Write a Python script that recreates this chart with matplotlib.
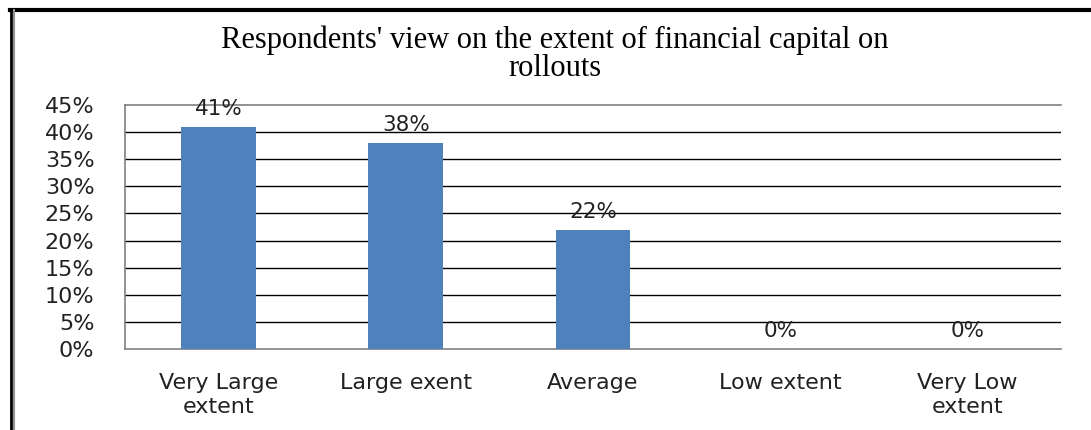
import matplotlib
matplotlib.use("Agg")
import matplotlib.pyplot as plt
from matplotlib.lines import Line2D
import numpy as np

categories = ["Very Large\nextent", "Large exent", "Average", "Low extent", "Very Low\nextent"]
shares = [41, 38, 22, 0, 0]
y_ticks = [0, 5, 10, 15, 20, 25, 30, 35, 40, 45]

W, H = 1091, 430
fig = plt.figure(figsize=(W / 100, H / 100), dpi=100)
ax = fig.add_axes([125 / W, 1 - 349 / H, (1061 - 125) / W, (349 - 105) / H])

x = np.arange(len(categories))
ax.bar(x, shares, width=0.40, color="#4F81BD", zorder=3)
for xi, v in zip(x, shares):
    ax.text(xi, v + 1.5, f"{v}%", ha="center", va="bottom", fontsize=15.5, color="#222222")

ax.set_xlim(-0.5, len(categories) - 0.5)
ax.set_ylim(0, 45)
ax.set_yticks(y_ticks)
ax.set_yticklabels([f"{t}%" for t in y_ticks])
ax.set_xticks(x)
ax.set_xticklabels(categories, linespacing=1.3)
ax.tick_params(axis="both", length=0, labelsize=16, colors="#222222")
ax.tick_params(axis="x", pad=17)
ax.tick_params(axis="y", pad=22)

# gridlines in black, frame in grey
for t in y_ticks[1:-1]:
    ax.axhline(t, color="black", lw=1.0, zorder=1)
for side in ["left", "top", "bottom"]:
    ax.spines[side].set_color("#808080")
    ax.spines[side].set_linewidth(1.2)
ax.spines["right"].set_visible(False)

fig.text(555 / W, 1 - 40 / H, "Respondents' view on the extent of financial capital on",
         ha="center", va="center", fontsize=22, family="Liberation Serif")
fig.text(555 / W, 1 - 69 / H, "rollouts",
         ha="center", va="center", fontsize=22, family="Liberation Serif")

# outer frame
fig.add_artist(Line2D([10 / W, 1], [1 - 10 / H, 1 - 10 / H], transform=fig.transFigure, color="black", lw=3))
fig.add_artist(Line2D([11 / W, 11 / W], [0, 1 - 10 / H], transform=fig.transFigure, color="black", lw=2))
fig.add_artist(Line2D([14 / W, 14 / W], [0, 1 - 10 / H], transform=fig.transFigure, color="#909090", lw=1.5))

fig.savefig("out.png", dpi=100)
